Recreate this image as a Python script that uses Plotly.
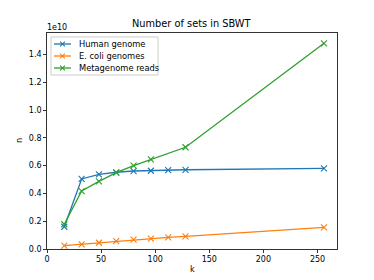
import plotly.graph_objects as go

k_values = [16, 32, 48, 64, 80, 96, 112, 128, 256]
human_genome = [0.160e10, 0.504e10, 0.537e10, 0.552e10, 0.561e10, 0.563e10, 0.568e10, 0.570e10, 0.580e10]
ecoli_genomes = [0.024e10, 0.034e10, 0.045e10, 0.057e10, 0.067e10, 0.074e10, 0.084e10, 0.091e10, 0.156e10]
meta_k = [16, 32, 48, 64, 80, 96, 128, 256]
metagenome_reads = [0.178e10, 0.417e10, 0.487e10, 0.549e10, 0.600e10, 0.645e10, 0.732e10, 1.480e10]
series_names = ["Human genome", "E. coli genomes", "Metagenome reads"]

x_ticks = [0, 50, 100, 150, 200, 250]
y_tick_vals = [0, 0.2e10, 0.4e10, 0.6e10, 0.8e10, 1.0e10, 1.2e10, 1.4e10]
y_tick_text = ["0.0", "0.2", "0.4", "0.6", "0.8", "1.0", "1.2", "1.4"]

colors = ["#1f77b4", "#ff7f0e", "#2ca02c"]
FONT = "DejaVu Sans"

W, H = 374, 280
L, R, T, B = 47, 37, 33, 31
PW, PH = W - L - R, H - T - B


def px_x(p):
    return (p - L) / PW


def px_y(p):
    return 1 - (p - T) / PH


fig = go.Figure()
series = [
    (k_values, human_genome),
    (k_values, ecoli_genomes),
    (meta_k, metagenome_reads),
]
for (xs, ys), name, c in zip(series, series_names, colors):
    fig.add_trace(go.Scatter(
        x=xs, y=ys, name=name, mode="lines+markers", showlegend=False,
        line=dict(color=c, width=1.3),
        marker=dict(symbol="x-thin", size=6, color=c, line=dict(color=c, width=1.1)),
    ))

axis_common = dict(
    showline=True, linecolor="black", linewidth=0.8, mirror=True,
    ticks="outside", ticklen=3, tickwidth=0.8, tickcolor="black",
    showgrid=False, zeroline=False, automargin=False,
    tickfont=dict(family=FONT, size=8, color="black"),
)

shapes = []
annotations = []
# legend box
shapes.append(dict(type="rect", xref="paper", yref="paper",
                   x0=px_x(51), x1=px_x(158), y0=px_y(75), y1=px_y(37),
                   line=dict(color="#cccccc", width=1), fillcolor="rgba(255,255,255,0.8)",
                   layer="above"))
for i, (name, c) in enumerate(zip(series_names, colors)):
    yy = 44 + 12 * i
    shapes.append(dict(type="line", xref="paper", yref="paper",
                       x0=px_x(54), x1=px_x(71), y0=px_y(yy), y1=px_y(yy),
                       line=dict(color=c, width=1.3), layer="above"))
    cx, d = 62.5, 2.4
    for dx0, dy0, dx1, dy1 in [(-d, -d, d, d), (-d, d, d, -d)]:
        shapes.append(dict(type="line", xref="paper", yref="paper",
                           x0=px_x(cx + dx0), x1=px_x(cx + dx1),
                           y0=px_y(yy + dy0), y1=px_y(yy + dy1),
                           line=dict(color=c, width=1.1), layer="above"))
    annotations.append(dict(text=name, xref="paper", yref="paper",
                            x=px_x(76.5), y=px_y(yy), xanchor="left", yanchor="middle",
                            showarrow=False, font=dict(family=FONT, size=8.3, color="black")))

annotations.append(dict(text="1e10", xref="paper", yref="paper", x=0, y=1.0,
                        xanchor="left", yanchor="bottom", showarrow=False,
                        font=dict(family=FONT, size=8, color="black"), xshift=-2, yshift=-1))
annotations.append(dict(text="n", xref="paper", yref="paper", x=px_x(19), y=0.5,
                        xanchor="center", yanchor="middle", showarrow=False, textangle=-90,
                        font=dict(family=FONT, size=8, color="black")))
annotations.append(dict(text="k", xref="paper", yref="paper", x=0.5, y=px_y(269),
                        xanchor="center", yanchor="middle", showarrow=False,
                        font=dict(family=FONT, size=8, color="black")))
annotations.append(dict(text="Number of sets in SBWT", xref="paper", yref="paper", x=0.5,
                        y=px_y(24), xanchor="center", yanchor="middle", showarrow=False,
                        font=dict(family=FONT, size=9.8, color="black")))

fig.update_layout(
    width=W, height=H,
    margin=dict(l=L, r=R, t=T, b=B),
    paper_bgcolor="white", plot_bgcolor="white",
    font=dict(family=FONT, size=8, color="black"),
    xaxis=dict(range=[0, 268], tickvals=x_ticks, **axis_common),
    yaxis=dict(range=[0, 1.554e10], tickvals=y_tick_vals, ticktext=y_tick_text, **axis_common),
    showlegend=False,
    hovermode=False,
    shapes=shapes,
    annotations=annotations,
)

fig.write_html("out.html", config={"displayModeBar": False, "staticPlot": True},
               post_script="document.body.style.margin='0';document.body.style.padding='0';")
